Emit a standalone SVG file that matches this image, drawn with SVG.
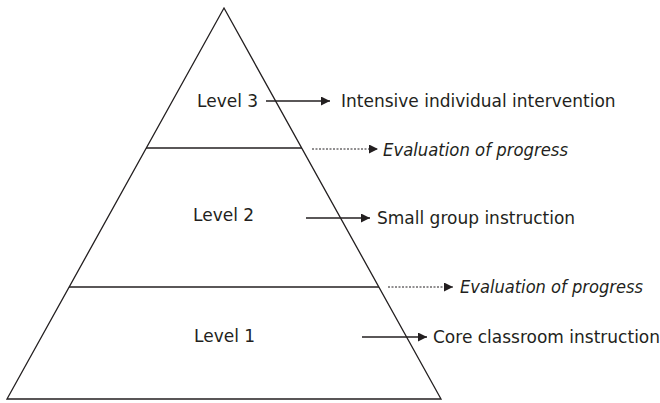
<svg xmlns="http://www.w3.org/2000/svg" width="660" height="403" viewBox="0 0 660 403">
<style>
text{font-family:"DejaVu Sans",Verdana,sans-serif;font-size:17px;fill:#231f20}
.it{font-style:italic}
.ln{stroke:#231f20;stroke-width:1.3;fill:none}
.dot{stroke:#231f20;stroke-width:1;stroke-dasharray:2,1.5;fill:none}
</style>
<defs>
<marker id="ah" viewBox="0 0 10 10" refX="10" refY="5" markerWidth="10" markerHeight="9" markerUnits="userSpaceOnUse" orient="auto">
<path d="M0,0 L10,5 L0,10 z" fill="#231f20"/>
</marker>
</defs>
<g id="pyramid">
<path class="ln" d="M224,8 L441,399 L7,399 Z"/>
<line class="ln" x1="146" y1="148" x2="302" y2="148"/>
<line class="ln" x1="69" y1="287" x2="379" y2="287"/>
</g>
<g id="level3"><text x="197" y="107">Level 3</text></g>
<g id="level2"><text x="193" y="221">Level 2</text></g>
<g id="level1"><text x="194" y="342">Level 1</text></g>
<g id="intervention"><text x="341" y="107">Intensive individual intervention</text></g>
<g id="eval1"><text class="it" x="383" y="156" textLength="185" lengthAdjust="spacingAndGlyphs">Evaluation of progress</text></g>
<g id="smallgroup"><text x="377" y="224">Small group instruction</text></g>
<g id="eval2"><text class="it" x="460" y="293" textLength="183" lengthAdjust="spacingAndGlyphs">Evaluation of progress</text></g>
<g id="core"><text x="433" y="343">Core classroom instruction</text></g>
<g id="connectors">
<line class="ln" x1="266" y1="101" x2="330" y2="101" marker-end="url(#ah)"/>
<line class="dot" x1="312" y1="149" x2="378" y2="149" marker-end="url(#ah)"/>
<line class="ln" x1="306" y1="218" x2="370" y2="218" marker-end="url(#ah)"/>
<line class="dot" x1="388" y1="287" x2="453" y2="287" marker-end="url(#ah)"/>
<line class="ln" x1="362" y1="337" x2="427" y2="337" marker-end="url(#ah)"/>
</g>
</svg>
